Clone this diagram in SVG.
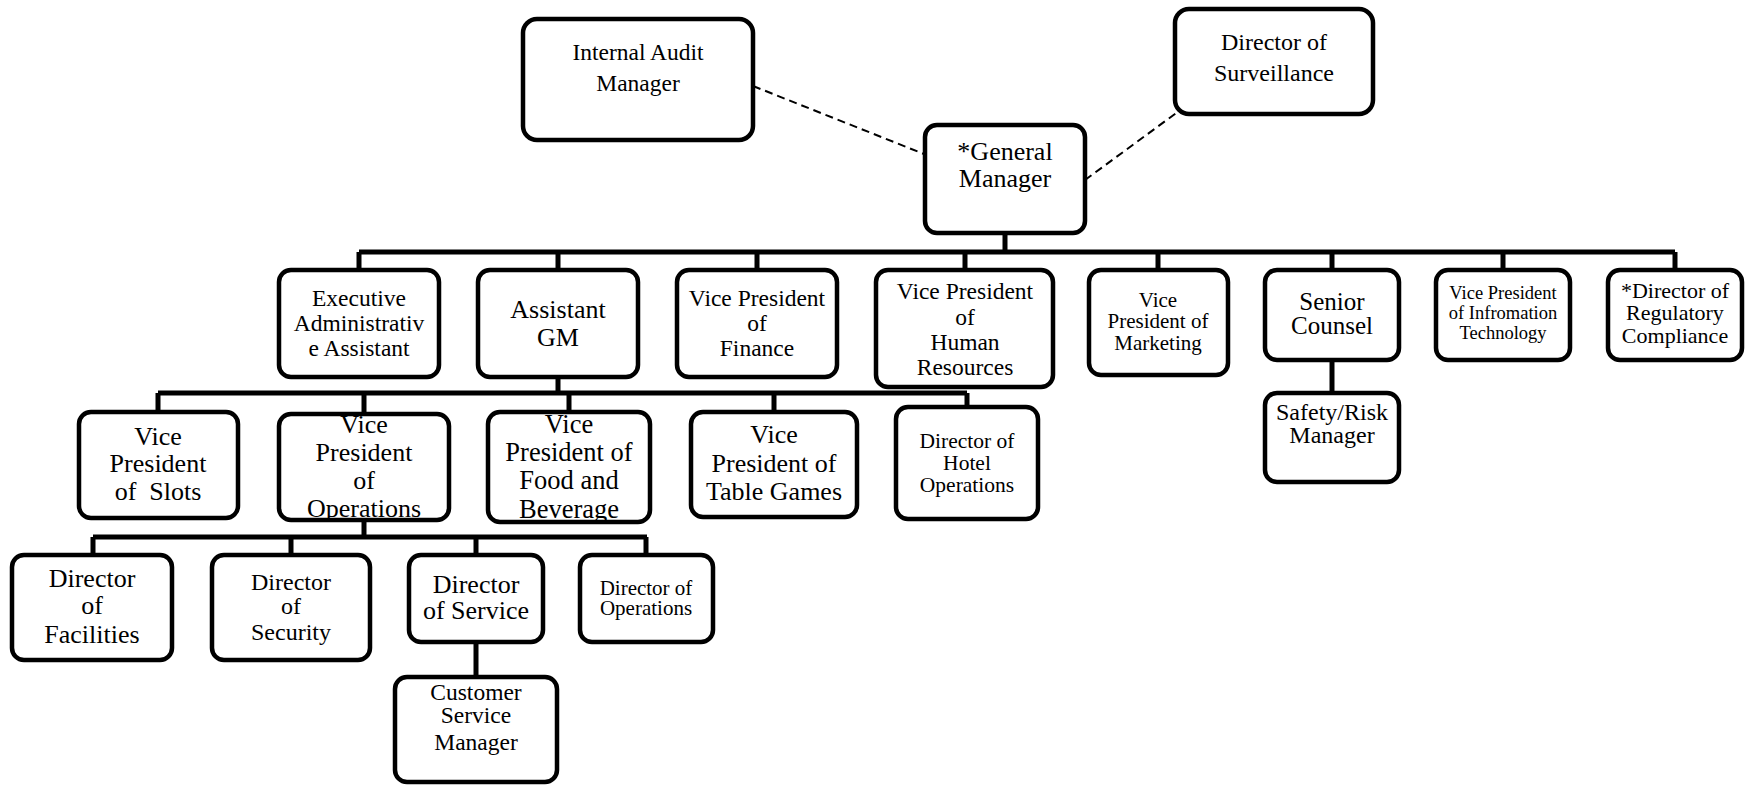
<svg xmlns="http://www.w3.org/2000/svg" width="1747" height="785" viewBox="0 0 1747 785">
<style>
.b{fill:#fff;stroke:#000;stroke-width:4.5}
text{font-family:'Liberation Serif','Tinos','Times New Roman','DejaVu Serif',serif;fill:#000;text-anchor:middle}
.c{fill:none;stroke:#000;stroke-width:5}
.d{fill:none;stroke:#000;stroke-width:2;stroke-dasharray:8 5}
</style>
<rect width="1747" height="785" fill="#fff"/>
<g id="connectors">
<line class="d" x1="753" y1="86" x2="924" y2="154"/>
<line class="d" x1="1085" y1="180" x2="1179" y2="111"/>
<path class="c" d="M1005 233V252M359 252H1675M359 252V270M558 252V270M757 252V270M965 252V270M1158 252V270M1332 252V270M1503 252V270M1675 252V270"/>
<path class="c" d="M558 377V393M158 393H967M158 393V412M364 393V414M569 393V412M774 393V412M967 393V407"/>
<path class="c" d="M1332 360V393"/>
<path class="c" d="M364 520V537M93 537H647M93 537V555M291 537V555M476 537V555M646 537V555M476 642V677"/>
</g>
<g id="internal-audit" font-family="Liberation Serif, serif"><rect class="b" x="523" y="19" width="230" height="121" rx="14"/><text font-size="23.5" x="638" y="60">Internal Audit</text><text font-size="23.5" x="638" y="91">Manager</text></g>
<g id="surveillance"><rect class="b" x="1175" y="9" width="198" height="105" rx="14"/><text font-size="24" x="1274" y="50">Director of</text><text font-size="24" x="1274" y="81">Surveillance</text></g>
<g id="gm"><rect class="b" x="925" y="125" width="160" height="108" rx="12"/><text font-size="26" x="1005" y="160">*General</text><text font-size="26" x="1005" y="187">Manager</text></g>
<g id="exec"><rect class="b" x="279" y="270" width="160" height="107" rx="12"/><text font-size="23.5" x="359" y="306">Executive</text><text font-size="23.5" x="359" y="331">Administrativ</text><text font-size="23.5" x="359" y="356">e Assistant</text></g>
<g id="agm"><rect class="b" x="478" y="270" width="160" height="107" rx="12"/><text font-size="26" x="558" y="318">Assistant</text><text font-size="26" x="558" y="346">GM</text></g>
<g id="finance"><rect class="b" x="677" y="270" width="160" height="107" rx="12"/><text font-size="23.5" x="757" y="306">Vice President</text><text font-size="23.5" x="757" y="331">of</text><text font-size="23.5" x="757" y="356">Finance</text></g>
<g id="hr"><rect class="b" x="876" y="270" width="177" height="117" rx="12"/><text font-size="23.5" x="965" y="299">Vice President</text><text font-size="23.5" x="965" y="325">of</text><text font-size="23.5" x="965" y="350">Human</text><text font-size="23.5" x="965" y="375">Resources</text></g>
<g id="marketing"><rect class="b" x="1089" y="270" width="139" height="105" rx="12"/><text font-size="21" x="1158" y="307">Vice</text><text font-size="21" x="1158" y="328">President of</text><text font-size="21" x="1158" y="350">Marketing</text></g>
<g id="counsel"><rect class="b" x="1265" y="270" width="134" height="90" rx="12"/><text font-size="25" x="1332" y="310">Senior</text><text font-size="25" x="1332" y="334">Counsel</text></g>
<g id="it"><rect class="b" x="1436" y="270" width="134" height="90" rx="12"/><text font-size="18.5" x="1503" y="299">Vice President</text><text font-size="18.5" x="1503" y="319">of Infromation</text><text font-size="18.5" x="1503" y="339">Technology</text></g>
<g id="regulatory"><rect class="b" x="1608" y="270" width="134" height="90" rx="12"/><text font-size="22" x="1675" y="298">*Director of</text><text font-size="22" x="1675" y="320">Regulatory</text><text font-size="22" x="1675" y="343">Compliance</text></g>
<g id="safety"><rect class="b" x="1265" y="393" width="134" height="89" rx="12"/><text font-size="24" x="1332" y="420">Safety/Risk</text><text font-size="24" x="1332" y="443">Manager</text></g>
<g id="hotel"><rect class="b" x="896" y="407" width="142" height="112" rx="12"/><text font-size="21.5" x="967" y="448">Director of</text><text font-size="21.5" x="967" y="470">Hotel</text><text font-size="21.5" x="967" y="492">Operations</text></g>
<g id="slots"><rect class="b" x="79" y="412" width="159" height="106" rx="12"/><text font-size="26" x="158" y="445">Vice</text><text font-size="26" x="158" y="472">President</text><text font-size="26" x="158" y="500" xml:space="preserve">of  Slots</text></g>
<g id="ops"><rect class="b" x="279" y="414" width="170" height="106" rx="12"/><text font-size="26" x="364" y="433">Vice</text><text font-size="26" x="364" y="461">President</text><text font-size="26" x="364" y="489">of</text><text font-size="26" x="364" y="517">Operations</text></g>
<g id="fnb"><rect class="b" x="488" y="412" width="162" height="110" rx="12"/><text font-size="26.5" x="569" y="433">Vice</text><text font-size="26.5" x="569" y="461">President of</text><text font-size="26.5" x="569" y="489">Food and</text><text font-size="26.5" x="569" y="518">Beverage</text></g>
<g id="tables"><rect class="b" x="691" y="412" width="166" height="105" rx="12"/><text font-size="26" x="774" y="443">Vice</text><text font-size="26" x="774" y="472">President of</text><text font-size="26" x="774" y="500">Table Games</text></g>
<g id="facilities"><rect class="b" x="12" y="555" width="160" height="105" rx="12"/><text font-size="26" x="92" y="587">Director</text><text font-size="26" x="92" y="614">of</text><text font-size="26" x="92" y="643">Facilities</text></g>
<g id="security"><rect class="b" x="212" y="555" width="158" height="105" rx="12"/><text font-size="24" x="291" y="590">Director</text><text font-size="24" x="291" y="614">of</text><text font-size="24" x="291" y="640">Security</text></g>
<g id="service"><rect class="b" x="409" y="555" width="134" height="87" rx="12"/><text font-size="26" x="476" y="593">Director</text><text font-size="26" x="476" y="619">of Service</text></g>
<g id="dirops"><rect class="b" x="580" y="555" width="133" height="87" rx="12"/><text font-size="21" x="646" y="595">Director of</text><text font-size="21" x="646" y="615">Operations</text></g>
<g id="customer"><rect class="b" x="395" y="677" width="162" height="105" rx="12"/><text font-size="23.5" x="476" y="700">Customer</text><text font-size="23.5" x="476" y="723">Service</text><text font-size="23.5" x="476" y="750">Manager</text></g>
</svg>
